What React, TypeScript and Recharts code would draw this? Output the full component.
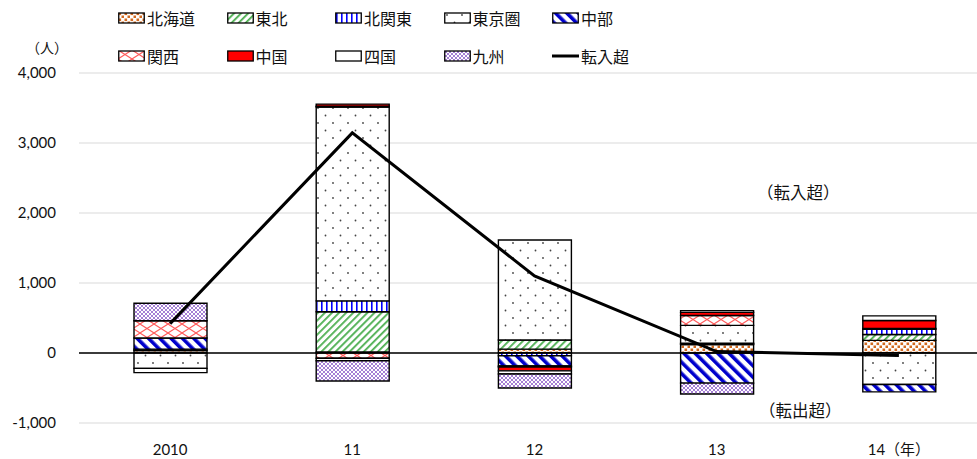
import React from 'react'
import {
  Bar,
  CartesianGrid,
  ComposedChart,
  Line,
  ReferenceLine,
  XAxis,
  YAxis,
} from 'recharts'

// 地域別の転入超過数（人）
const years = ['2010', '11', '12', '13', '14（年）']
const hokkaido = [35, 15, 55, 120, 180]
const tohoku = [0, 575, 130, 10, 85]
const kitaKanto = [20, 155, -40, 10, 75]
const tokyoArea = [-220, 2770, 1430, 255, -450]
const chubu = [160, 10, -145, -430, -105]
const kansai = [245, -75, -15, 140, 10]
const chugoku = [0, 30, -55, 45, 115]
const shikoku = [-60, -35, -45, 25, 65]
const kyushu = [250, -290, -200, -155, 0]
const netIn = [420, 3145, 1100, 20, -35]
const yTicks = [-1000, 0, 1000, 2000, 3000, 4000]

const FONT = "Lato, 'Noto Sans CJK JP', sans-serif"

const SERIES = [
  { key: '北海道', values: hokkaido, fill: 'url(#p-hokkaido)' },
  { key: '東北', values: tohoku, fill: 'url(#p-tohoku)' },
  { key: '北関東', values: kitaKanto, fill: 'url(#p-kitakanto)' },
  { key: '東京圏', values: tokyoArea, fill: 'url(#p-tokyo)' },
  { key: '中部', values: chubu, fill: 'url(#p-chubu)' },
  { key: '関西', values: kansai, fill: 'url(#p-kansai)' },
  { key: '中国', values: chugoku, fill: '#ff0000' },
  { key: '四国', values: shikoku, fill: '#ffffff' },
  { key: '九州', values: kyushu, fill: 'url(#p-kyushu)' },
]

const data = years.map((year, i) => {
  const row: Record<string, string | number> = { year, 転入超: netIn[i] }
  SERIES.forEach((s) => {
    row[s.key] = s.values[i]
  })
  return row
})

// legend order: 5 columns x 2 rows, same as the source
const LEGEND = [...SERIES.map((s) => ({ name: s.key, fill: s.fill, line: false })), { name: '転入超', fill: '#000', line: true }]

function Patterns() {
  return (
    <defs>
      <pattern id="p-hokkaido" patternUnits="userSpaceOnUse" width="6" height="6">
        <rect width="6" height="6" fill="#fff" />
        <rect x="0.5" y="0.5" width="2.6" height="2.6" fill="#d2691e" />
        <rect x="3.5" y="3.5" width="2.6" height="2.6" fill="#d2691e" />
      </pattern>
      <pattern id="p-tohoku" patternUnits="userSpaceOnUse" width="5" height="5" patternTransform="rotate(45)">
        <rect width="5" height="5" fill="#fff" />
        <rect x="0" y="0" width="1.8" height="5" fill="#4caf50" />
      </pattern>
      <pattern id="p-kitakanto" patternUnits="userSpaceOnUse" width="5" height="5">
        <rect width="5" height="5" fill="#fff" />
        <rect x="1" y="0" width="1.6" height="5" fill="#0000ff" />
      </pattern>
      <pattern id="p-tokyo" patternUnits="userSpaceOnUse" width="15" height="15">
        <rect width="15" height="15" fill="#fff" />
        <circle cx="3" cy="3" r="0.9" fill="#444" />
        <circle cx="10.5" cy="10.5" r="0.9" fill="#444" />
      </pattern>
      <pattern id="p-chubu" patternUnits="userSpaceOnUse" width="8" height="8" patternTransform="rotate(-45)">
        <rect width="8" height="8" fill="#fff" />
        <rect x="0" y="0" width="3.6" height="8" fill="#0000cc" />
      </pattern>
      <pattern id="p-kansai" patternUnits="userSpaceOnUse" width="14" height="9">
        <rect width="14" height="9" fill="#fff" />
        <path d="M0,0 L14,9 M14,0 L0,9" stroke="#ff5a5a" strokeWidth="1.1" fill="none" />
      </pattern>
      <pattern id="p-kyushu" patternUnits="userSpaceOnUse" width="4" height="4">
        <rect width="4" height="4" fill="#fff" />
        <path d="M0,0 L4,4 M4,0 L0,4" stroke="#9b6fd0" strokeWidth="0.9" fill="none" />
      </pattern>
    </defs>
  )
}

function LegendBox() {
  return (
    <div style={{ position: 'absolute', left: 118, top: 6, width: 560 }}>
      {LEGEND.map((item, i) => {
        const col = i % 5
        const row = Math.floor(i / 5)
        return (
          <div
            key={item.name}
            style={{
              position: 'absolute',
              left: col * 108.5,
              top: row * 38,
              display: 'flex',
              alignItems: 'center',
              height: 24,
              whiteSpace: 'nowrap',
            }}
          >
            <svg width={27} height={12} style={{ marginRight: 2 }}>
              {item.line ? (
                <line x1={0} y1={6} x2={27} y2={6} stroke="#000" strokeWidth={3} />
              ) : (
                <rect x={0.75} y={1} width={25.5} height={10} fill={item.fill} stroke="#000" strokeWidth={1.3} />
              )}
            </svg>
            <span style={{ fontSize: 16, color: '#111' }}>{item.name}</span>
          </div>
        )
      })}
    </div>
  )
}

export default function App() {
  return (
    <div
      style={{
        position: 'relative',
        width: 977,
        height: 459,
        overflow: 'hidden',
        background: '#fff',
        fontFamily: FONT,
      }}
    >
      <style>{'body{margin:0}'}</style>
      <div style={{ position: 'absolute', left: 0, top: 0 }}>
        <ComposedChart
          width={1000}
          height={459}
          data={data}
          stackOffset="sign"
          barSize={73}
          margin={{ top: 73, right: 10, bottom: 6, left: 0 }}
        >
          <Patterns />
          <CartesianGrid stroke="#d9d9d9" vertical={false} />
          <XAxis
            dataKey="year"
            axisLine={false}
            tickLine={false}
            height={30}
            tickMargin={15}
            tick={{ fill: '#111', fontSize: 15, fontFamily: FONT }}
          />
          <YAxis
            width={79}
            domain={[-1000, 4000]}
            ticks={yTicks}
            axisLine={false}
            tickLine={false}
            tickMargin={17}
            tickFormatter={(v: number) => v.toLocaleString('en-US')}
            tick={{ fill: '#111', fontSize: 15, fontFamily: FONT }}
          />
          {SERIES.map((s) => (
            <Bar
              key={s.key}
              dataKey={s.key}
              stackId="a"
              fill={s.fill}
              stroke="#000"
              strokeWidth={1.4}
              isAnimationActive={false}
            />
          ))}
          <ReferenceLine y={0} stroke="#000" strokeWidth={1.5} />
          <Line
            type="linear"
            dataKey="転入超"
            stroke="#000"
            strokeWidth={3}
            dot={false}
            isAnimationActive={false}
          />
        </ComposedChart>
      </div>
      <LegendBox />
      <div style={{ position: 'absolute', left: 26, top: 37, fontSize: 14, color: '#111' }}>（人）</div>
      <div style={{ position: 'absolute', left: 757, top: 180, fontSize: 16.5, color: '#111' }}>（転入超）</div>
      <div style={{ position: 'absolute', left: 759, top: 398, fontSize: 16.5, color: '#111' }}>（転出超）</div>
    </div>
  )
}
